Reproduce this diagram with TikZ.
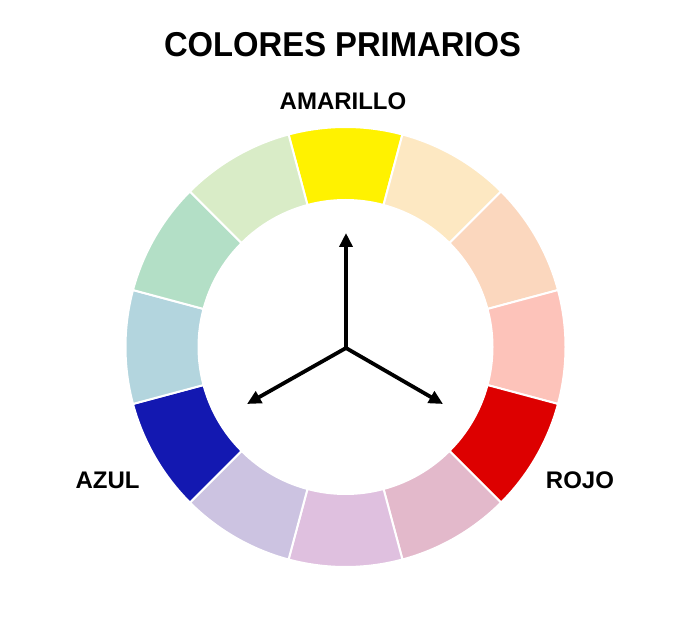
\documentclass[tikz,border=0pt]{standalone}
\usepackage{fontspec}
\setmainfont{Liberation Sans}
\usetikzlibrary{arrows.meta}
\definecolor{cYel}{HTML}{FFF200}
\definecolor{cPeach}{HTML}{FDE8C2}
\definecolor{cPeachB}{HTML}{FBD7BE}
\definecolor{cPink}{HTML}{FDC3BA}
\definecolor{cRed}{HTML}{DD0000}
\definecolor{cMauve}{HTML}{E3B9CB}
\definecolor{cLMauve}{HTML}{DFC0DF}
\definecolor{cLav}{HTML}{CCC3E1}
\definecolor{cBlue}{HTML}{1318B1}
\definecolor{cLBlue}{HTML}{B3D5DE}
\definecolor{cLGreen}{HTML}{B3DFC6}
\definecolor{cYGreen}{HTML}{D9ECC7}
\tikzset{
  seg/.style={draw=white, line width=2pt},
  arr/.style={line width=3.8pt, -{Triangle[length=14pt,width=13pt]}},
  lbl/.style={font=\bfseries\fontsize{24}{26}\selectfont, inner sep=0pt},
  ttl/.style={font=\bfseries\fontsize{34.5}{40}\selectfont, inner sep=0pt, xscale=0.95, transform shape}
}
\begin{document}
\begin{tikzpicture}[x=1pt,y=1pt]
\fill[white] (0,0) rectangle (685,627);
\useasboundingbox (0,0) rectangle (685,627);
\node[ttl] (title) at (342.5,582.5) {COLORES PRIMARIOS};
\node[lbl] (amarillo) at (343,525.5) {AMARILLO};
\node[lbl] (azul) at (107.5,147) {AZUL};
\node[lbl] (rojo) at (580,147) {ROJO};
\begin{scope}[shift={(345.5,280)}]
\foreach \c [count=\i from 0] in {cYel,cPeach,cPeachB,cPink,cRed,cMauve,cLMauve,cLav,cBlue,cLBlue,cLGreen,cYGreen}{
  \pgfmathsetmacro{\aa}{105-30*\i}
  \pgfmathsetmacro{\ab}{75-30*\i}
  \filldraw[seg, fill=\c] (\aa:220) arc[start angle=\aa, end angle=\ab, radius=220]
    -- (\ab:147) arc[start angle=\ab, end angle=\aa, radius=147] -- cycle;
}
\end{scope}
\coordinate (ctr) at (346,279);
\coordinate (tipY) at (346,394);
\coordinate (tipB) at (247,223);
\coordinate (tipR) at (443,223);
\draw[arr] (ctr) -- (tipY);
\draw[arr] (ctr) -- (tipB);
\draw[arr] (ctr) -- (tipR);
\end{tikzpicture}
\end{document}
